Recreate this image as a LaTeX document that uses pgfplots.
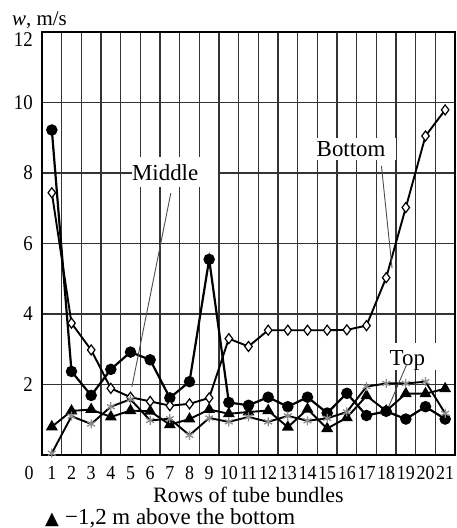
\documentclass[border=0pt]{standalone}
\usepackage{fontspec}
\setmainfont{Liberation Serif}
\newfontfamily\tickfont[FakeStretch=0.9]{Liberation Serif}
\newfontfamily\symfont{DejaVu Sans}
\usepackage{pgfplots}
\pgfplotsset{compat=1.18}
\begin{document}
\begin{tikzpicture}
\begin{axis}[
  scale only axis, width=413bp, height=423bp,
  xmin=0.5, xmax=21.5, ymin=0, ymax=12,
  xtick={1,...,21}, minor xtick={1.5,2.5,...,20.5},
  ytick={2,4,6,8,10},
  xminorgrids, ymajorgrids,
  minor grid style={black!80, line width=1.4bp},
  major grid style={black!80, line width=1.4bp},
  axis line style={line width=1.6bp},
  tick style={draw=none},
  /pgf/number format/assume math mode=true,
  xticklabel style={font=\tickfont\fontsize{20}{20}\selectfont, anchor=base, inner sep=0pt, yshift=-24bp},
  yticklabel style={font=\tickfont\fontsize{21}{21}\selectfont, anchor=east, inner sep=0pt, xshift=-9bp},
  xlabel={Rows of tube bundles},
  xlabel style={at={(axis description cs:0.5,0)}, anchor=base, inner sep=0pt, yshift=-47bp, font=\fontsize{22}{24}\selectfont},
  clip=false,
]
% label boxes
\fill[white] (axis cs:5.07,7.6) rectangle (axis cs:9.43,8.45);
\node[anchor=base west, inner sep=0pt, font=\fontsize{23}{26}\selectfont] at (axis cs:5.07,7.80) {Middle};
\fill[white] (axis cs:14.36,8.37) rectangle (axis cs:18.52,8.99);
\node[anchor=base west, inner sep=0pt, font=\fontsize{23}{26}\selectfont] at (axis cs:14.46,8.48) {Bottom};
\fill[white] (axis cs:18.01,2.41) rectangle (axis cs:20.55,3.18);
\node[anchor=base west, inner sep=0pt, font=\fontsize{23}{26}\selectfont] at (axis cs:18.17,2.55) {Top};

% circles
\addplot[black, line width=2.2bp, mark=*, mark size=4.6bp] coordinates {
(1,9.22)(2,2.37)(3,1.69)(4,2.43)(5,2.92)(6,2.70)(7,1.62)(8,2.08)(9,5.55)(10,1.49)
(11,1.41)(12,1.64)(13,1.37)(14,1.64)(15,1.19)(16,1.75)(17,1.12)(18,1.24)(19,1.02)(20,1.37)(21,1.02)};
% diamonds
\addplot[black, line width=1.9bp, mark=diamond*, mark size=5bp, mark options={fill=white, line width=1.2bp}] coordinates {
(1,7.44)(2,3.74)(3,2.98)(4,1.89)(5,1.64)(6,1.52)(7,1.40)(8,1.45)(9,1.62)(10,3.30)
(11,3.08)(12,3.54)(13,3.54)(14,3.54)(15,3.54)(16,3.55)(17,3.67)(18,5.03)(19,7.02)(20,9.05)(21,9.79)};
% triangles
\addplot[black, line width=1.9bp, mark=triangle*, mark size=5bp] coordinates {
(1,0.80)(2,1.25)(3,1.29)(4,1.08)(5,1.26)(6,1.24)(7,0.86)(8,1.02)(9,1.29)(10,1.17)
(11,1.22)(12,1.26)(13,0.79)(14,1.30)(15,0.75)(16,1.06)(17,1.68)(18,1.25)(19,1.74)(20,1.74)(21,1.88)};
% stars
\addplot[black, line width=1.9bp, mark=asterisk, mark size=4.5bp, mark options={draw=black!45, line width=1.3bp}] coordinates {
(1,0.05)(2,1.10)(3,0.88)(4,1.37)(5,1.58)(6,0.98)(7,1.03)(8,0.56)(9,1.05)(10,0.94)
(11,1.08)(12,0.94)(13,1.11)(14,0.97)(15,1.04)(16,1.22)(17,1.94)(18,2.03)(19,2.03)(20,2.08)(21,1.18)};

% leader lines
\draw[black!70, line width=0.9bp] (axis cs:7.05,7.43) -- (axis cs:5.07,1.93);
\draw[black!70, line width=0.9bp] (axis cs:17.76,8.2) -- (axis cs:18.3,5.3);
\draw[black!70, line width=0.9bp] (axis cs:19.03,2.55) -- (axis cs:18.06,1.28);

% extra labels
\node[anchor=base, inner sep=0pt, font=\tickfont\fontsize{20}{20}\selectfont] at ([xshift=-13bp,yshift=-24bp]rel axis cs:0,0) {0};
\node[anchor=east, inner sep=0pt, font=\tickfont\fontsize{21}{21}\selectfont] at ([xshift=-9bp,yshift=-8bp]rel axis cs:0,1) {12};
\node[anchor=base west, inner sep=0pt, font=\fontsize{21}{24}\selectfont] at ([xshift=-30bp,yshift=6bp]rel axis cs:0,1) {\textit{w}, m/s};
\node[anchor=base west, inner sep=0pt, font=\symfont\fontsize{18}{18}\selectfont] at ([xshift=3bp,yshift=-69bp]rel axis cs:0,0) {▲};
\node[anchor=base west, inner sep=0pt, font=\fontsize{23}{26}\selectfont] at ([xshift=23bp,yshift=-69bp]rel axis cs:0,0) {−1,2 m above the bottom};
\end{axis}
\pgfresetboundingbox
\path (-42bp,-73bp) rectangle (415bp,455bp);
\end{tikzpicture}
\end{document}
